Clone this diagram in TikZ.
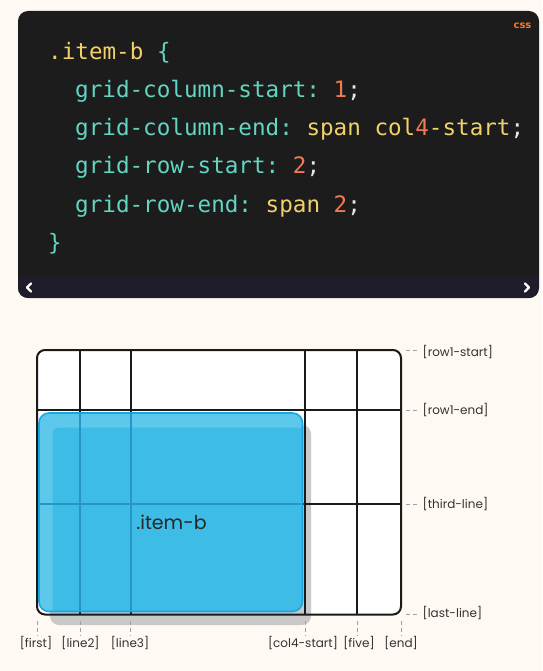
\documentclass[tikz,border=0pt]{standalone}
\usepackage{fontspec}
\setmainfont{Poppins}
\newfontfamily\codefont{DejaVu Sans Mono}[WordSpace={1,0,0}]
\newfontfamily\cssfont{DejaVu Sans}
\definecolor{bgcream}{HTML}{FFF9F3}
\definecolor{codebg}{HTML}{1C1C1C}
\definecolor{stripbg}{HTML}{201C2B}
\definecolor{cyellow}{HTML}{F2D16B}
\definecolor{cteal}{HTML}{62D5C3}
\definecolor{corange}{HTML}{F07B50}
\definecolor{csemi}{HTML}{E6E6E6}
\definecolor{cssorange}{HTML}{F47B20}
\definecolor{gridline}{HTML}{1A1A1A}
\definecolor{shadowgray}{HTML}{C9C9C9}
\definecolor{bluelight}{HTML}{5EC8EC}
\definecolor{bluedark}{HTML}{3DBCE5}
\definecolor{blueborder}{HTML}{1BA6E2}
\definecolor{blueline}{HTML}{2796C6}
\definecolor{labelgray}{HTML}{333333}
\definecolor{tickgray}{HTML}{A0A0A0}
\tikzset{
  codeline/.style={anchor=base west, inner sep=0pt, font=\codefont\fontsize{22.6}{26}\selectfont\frenchspacing},
  gridstroke/.style={draw=gridline, line width=2pt},
  tickdash/.style={draw=tickgray, line width=0.8pt, dash pattern=on 4pt off 3pt},
  linelabel/.style={inner sep=0pt, text=labelgray, font=\fontsize{12}{14}\selectfont},
  chev/.style={draw=white, line width=2.2pt, line cap=round, line join=round},
}
\begin{document}
\begin{tikzpicture}[x=1pt, y=-1pt]
\useasboundingbox (0,0) rectangle (542,671);
\fill[bgcream] (0,0) rectangle (542,671);

% ---------- code panel ----------
\fill[codebg, rounded corners=10pt] (18,11) rectangle (539,298);
\begin{scope}
  \clip[rounded corners=10pt] (18,11) rectangle (539,298);
  \fill[stripbg] (18,277) rectangle (539,298);
\end{scope}
\draw[chev] (31,283.5) -- (27,287.5) -- (31,291.5);
\draw[chev] (525,283.5) -- (529,287.5) -- (525,291.5);
\node[anchor=center, inner sep=0pt, text=cssorange, font=\cssfont\bfseries\fontsize{10}{11}\selectfont] (css) at (522.5,26) {css};

\node[codeline] (l1) at (48,59.3) {\textcolor{cyellow}{.item-b} \textcolor{cteal}{\{}};
\node[codeline] (l2) at (75,97.5) {\textcolor{cteal}{grid-column-start:} \textcolor{corange}{1}\textcolor{csemi}{;}};
\node[codeline] (l3) at (75,135.7) {\textcolor{cteal}{grid-column-end:} \textcolor{cyellow}{span col}\textcolor{corange}{4}\textcolor{cyellow}{-start}\textcolor{csemi}{;}};
\node[codeline] (l4) at (75,173.9) {\textcolor{cteal}{grid-row-start:} \textcolor{corange}{2}\textcolor{csemi}{;}};
\node[codeline] (l5) at (75,212.1) {\textcolor{cteal}{grid-row-end:} \textcolor{cyellow}{span} \textcolor{corange}{2}\textcolor{csemi}{;}};
\node[codeline] (l6) at (48,250.3) {\textcolor{cteal}{\}}};

% ---------- grid ----------
\def\cA{37}\def\cB{80}\def\cC{130.5}\def\cD{305}\def\cE{357}\def\cF{401}
\def\rA{350}\def\rB{410}\def\rC{504}\def\rD{614.5}
\fill[white, rounded corners=8pt] (\cA,\rA) rectangle (\cF,\rD);
% shadow of item
\fill[shadowgray, rounded corners=9pt] (50,425) rectangle (311,625);
% inner grid lines
\foreach \c in {\cB,\cC,\cD,\cE} \draw[gridstroke] (\c,\rA) -- (\c,\rD);
\foreach \r in {\rB,\rC} \draw[gridstroke] (\cA,\r) -- (\cF,\r);
\draw[gridstroke, rounded corners=8pt] (\cA,\rA) rectangle (\cF,\rD);

% item box
\fill[bluelight, rounded corners=10pt] (39,413) rectangle (302.5,611.5);
\begin{scope}
  \clip[rounded corners=10pt] (39,413) rectangle (302.5,611.5);
  \fill[bluedark, rounded corners=6pt] (52.5,427.5) rectangle (320,640);
  \foreach \c in {\cB,\cC} \draw[draw=blueline, line width=2pt] (\c,\rA) -- (\c,\rD);
  \draw[draw=blueline, line width=2pt] (\cA,\rC) -- (\cF,\rC);
\end{scope}
\draw[blueborder, line width=1.6pt, rounded corners=10pt] (39,413) rectangle (302.5,611.5);
\node[inner sep=0pt, text=black!85, font=\fontsize{19}{22}\selectfont] (itemb) at (171.5,522) {.item-b};

% ---------- row labels ----------
\node[linelabel, anchor=west] (rl1) at (422.5,352) {[row1-start]};
\node[linelabel, anchor=west] (rl2) at (422.5,410) {[row1-end]};
\node[linelabel, anchor=west] (rl3) at (422.5,504) {[third-line]};
\node[linelabel, anchor=west] (rl4) at (422.5,613.5) {[last-line]};
\foreach \r in {\rA,\rB,\rC,\rD}
  \draw[tickdash] (406,\r) -- (418.5,\r);

% ---------- column labels ----------
\node[linelabel] (cl1) at (36,643) {[first]};
\node[linelabel] (cl2) at (80.5,643) {[line2]};
\node[linelabel] (cl3) at (130,643) {[line3]};
\node[linelabel] (cl4) at (303,643) {[col4-start]};
\node[linelabel] (cl5) at (359,643) {[five]};
\node[linelabel] (cl6) at (401,643) {[end]};
\foreach \c in {\cA,\cB,\cC,\cD,\cE,\cF}
  \draw[tickdash] (\c,620.5) -- (\c,636);
\end{tikzpicture}
\end{document}
